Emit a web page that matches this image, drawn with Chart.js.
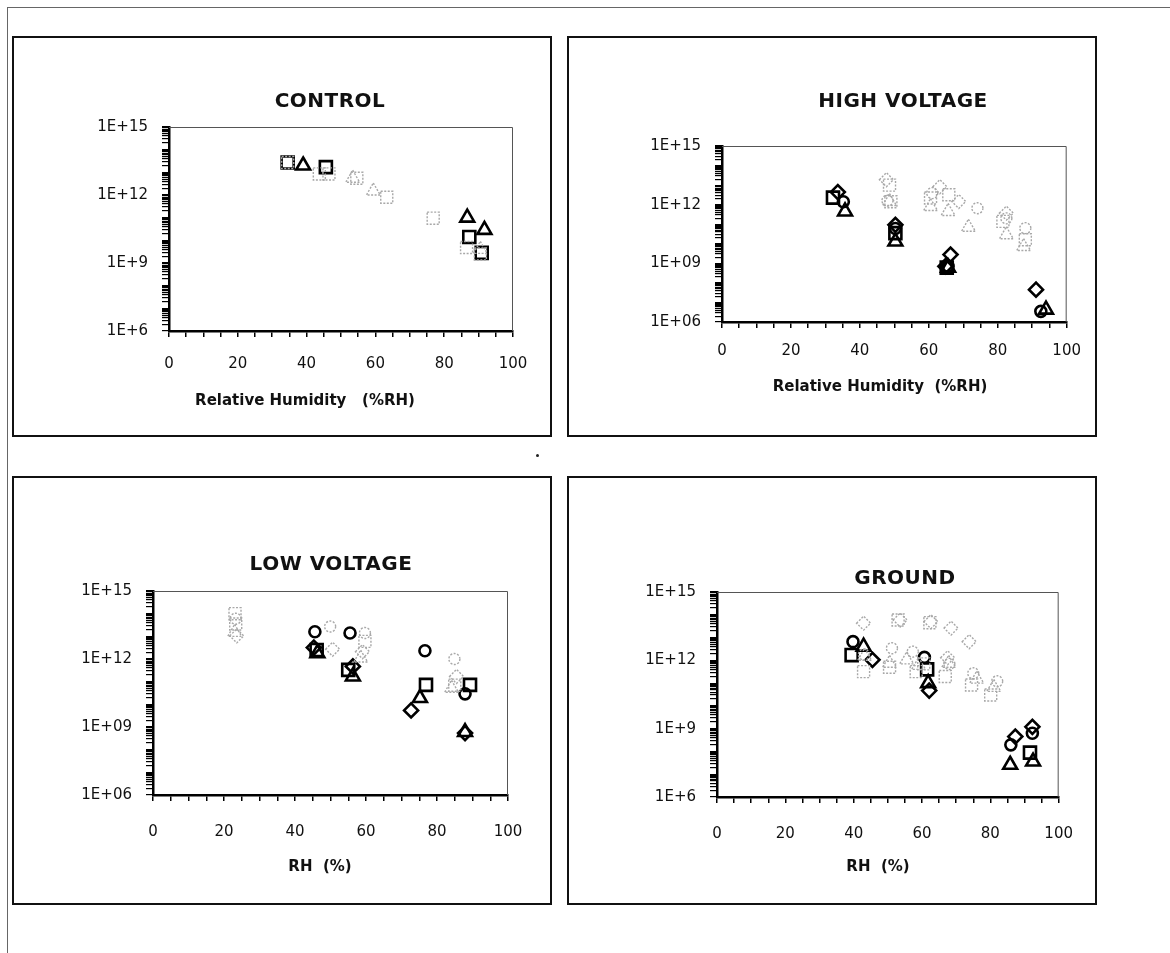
<!DOCTYPE html>
<html>
<head>
<meta charset="utf-8">
<script src="https://cdn.jsdelivr.net/npm/chart.js@4.4.1/dist/chart.umd.min.js"></script>
<style>
  html, body { margin: 0; padding: 0; background: #fff; }
  body { width: 1170px; height: 953px; position: relative; overflow: hidden; font-family: "DejaVu Sans", sans-serif; }
  .page-top  { position: absolute; left: 8px; top: 7px; width: 1162px; border-top: 1px solid #666; }
  .page-left { position: absolute; left: 7px; top: 7px; height: 946px; border-left: 1px solid #666; }
  .panel { position: absolute; border: 2px solid #111; box-sizing: border-box; }
  .chart { position: absolute; }
  .title { position: absolute; transform: translate(-50%, -50%); font-size: 20px; font-weight: 600; white-space: nowrap; color: #111; letter-spacing: 0.5px; }
  .axis-title { position: absolute; transform: translate(-50%, -50%); font-size: 15px; font-weight: bold; white-space: pre; color: #111; }
  .speck { position: absolute; width: 3px; height: 3px; background: #222; border-radius: 50%; }
</style>
</head>
<body>
<div class="page-top"></div>
<div class="page-left"></div>

<div class="panel" style="left:12px;top:36px;width:540px;height:401px"></div>
<div class="panel" style="left:567px;top:36px;width:530px;height:401px"></div>
<div class="panel" style="left:12px;top:476px;width:540px;height:429px"></div>
<div class="panel" style="left:567px;top:476px;width:530px;height:429px"></div>

<div class="chart" id="wrapControl"><canvas id="control"></canvas></div>
<div class="chart" id="wrapHigh"><canvas id="high"></canvas></div>
<div class="chart" id="wrapLow"><canvas id="low"></canvas></div>
<div class="chart" id="wrapGround"><canvas id="ground"></canvas></div>

<div class="title" style="left:330px;top:100px">CONTROL</div>
<div class="title" style="left:903px;top:100px">HIGH VOLTAGE</div>
<div class="title" style="left:331px;top:563px">LOW VOLTAGE</div>
<div class="title" style="left:905px;top:577px">GROUND</div>

<div class="axis-title" style="left:305px;top:400px">Relative Humidity   (%RH)</div>
<div class="axis-title" style="left:880px;top:386px">Relative Humidity  (%RH)</div>
<div class="axis-title" style="left:320px;top:866px">RH  (%)</div>
<div class="axis-title" style="left:878px;top:866px">RH  (%)</div>

<div class="speck" style="left:536px;top:454px"></div>

<script>
/* ── TICK LABELS ──────────────────────────────────────────── */
const xTickLabels    = ['0', '20', '40', '60', '80', '100'];
const controlYLabels = ['1E+6', '1E+9', '1E+12', '1E+15'];
const highYLabels    = ['1E+06', '1E+09', '1E+12', '1E+15'];
const lowYLabels     = ['1E+06', '1E+09', '1E+12', '1E+15'];
const groundYLabels  = ['1E+6', '1E+9', '1E+12', '1E+15'];

/* ── CONTROL  [RH %, resistance] ──────────────────────────── */
const controlBlackSquare   = [[34.5, 2.7e13], [45.6, 1.7e13], [87.3, 1.4e10], [90.9, 2.8e9]];
const controlBlackTriangle = [[39.0, 2.0e13], [86.7, 1.0e11], [91.7, 2.9e10]];
const controlGraySquare    = [[34.5, 2.7e13], [43.7, 8.5e12], [46.5, 8.5e12], [54.6, 5.5e12],
                              [63.3, 8.0e11], [76.8, 9.5e10], [86.5, 4.8e9], [90.5, 2.5e9]];
const controlGrayTriangle  = [[53.4, 5.5e12], [59.4, 1.5e12], [90.5, 4.0e9]];

/* ── HIGH VOLTAGE ─────────────────────────────────────────── */
const highBlackSquare   = [[32.2, 2.3e12], [50.3, 3.5e10], [65.2, 6.0e8]];
const highBlackDiamond  = [[33.6, 4.4e12], [50.3, 9.3e10], [64.8, 7.0e8], [66.3, 2.8e9], [91.1, 4.5e7]];
const highBlackCircle   = [[35.2, 1.4e12], [50.3, 6.0e10], [65.6, 7.0e8], [92.5, 3.5e6]];
const highBlackTriangle = [[35.7, 4.5e11], [50.3, 1.3e10], [65.6, 6.0e8], [94.0, 4.3e6]];
const highGrayDiamond   = [[47.7, 1.9e13], [63.2, 8.3e12], [68.7, 1.45e12], [82.5, 3.7e11]];
const highGraySquare    = [[48.6, 1.0e13], [49.0, 1.4e12], [65.8, 3.2e12], [60.5, 2.2e12], [81.5, 1.4e11], [88.0, 1.6e10]];
const highGrayCircle    = [[48.0, 1.6e12], [61.0, 3.9e12], [74.1, 6.6e11], [82.5, 2.0e11], [88.0, 6.3e10]];
const highGrayTriangle  = [[48.6, 1.45e12], [60.5, 8.0e11], [65.6, 4.5e11], [71.5, 7.0e10], [82.5, 2.9e10], [87.5, 7.2e9]];

/* ── LOW VOLTAGE ──────────────────────────────────────────── */
const lowBlackCircle   = [[45.6, 1.6e13], [55.5, 1.4e13], [76.6, 2.3e12], [87.9, 2.9e10]];
const lowBlackSquare   = [[46.1, 2.5e12], [55.0, 3.3e11], [76.9, 7.2e10], [89.3, 7.2e10]];
const lowBlackDiamond  = [[45.3, 3.2e12], [56.3, 4.7e11], [72.7, 5.4e9], [87.9, 5.4e8]];
const lowBlackTriangle = [[46.3, 1.8e12], [56.3, 1.7e11], [75.2, 1.9e10], [87.9, 6.0e8]];
const lowGraySquare    = [[23.1, 1.0e14], [23.3, 3.5e13], [59.7, 6.0e12], [85.0, 7.0e10]];
const lowGrayCircle    = [[23.3, 6.0e13], [49.9, 2.7e13], [59.7, 1.4e13], [84.9, 1.0e12]];
const lowGrayDiamond   = [[23.6, 1.05e13], [50.6, 2.7e12], [59.0, 2.1e12], [85.5, 1.7e11]];
const lowGrayTriangle  = [[23.0, 1.5e13], [58.5, 1.1e12], [84.1, 5.1e10]];

/* ── GROUND ───────────────────────────────────────────────── */
const groundBlackCircle   = [[39.8, 6.6e12], [60.7, 1.35e12], [86.0, 1.95e8], [92.3, 6.3e8]];
const groundBlackSquare   = [[39.4, 1.7e12], [61.5, 4.0e11], [91.6, 8.9e7]];
const groundBlackDiamond  = [[45.5, 1.05e12], [62.1, 4.7e10], [87.3, 4.5e8], [92.3, 1.2e9]];
const groundBlackTriangle = [[42.9, 4.0e12], [61.8, 1.0e11], [85.8, 2.6e7], [92.5, 3.6e7]];
const groundGrayDiamond   = [[42.9, 4.3e13], [53.6, 5.9e13], [62.6, 5.0e13], [68.5, 2.6e13], [73.8, 6.6e12], [67.5, 1.3e12]];
const groundGraySquare    = [[53.0, 5.9e13], [62.3, 4.5e13], [42.9, 3.2e11], [50.5, 5.0e11], [58.3, 3.2e11],
                             [66.8, 1.95e11], [74.5, 8.3e10], [80.1, 3.0e10], [60.5, 7.0e11]];
const groundGrayCircle    = [[43.0, 1.8e12], [51.2, 3.4e12], [57.3, 2.4e12], [75.0, 2.7e11], [82.0, 1.2e11], [68.0, 7.0e11]];
const groundGrayTriangle  = [[43.2, 1.5e12], [50.5, 7.4e11], [55.5, 1.05e12], [67.8, 7.4e11], [76.0, 1.5e11], [81.0, 6.5e10], [59.0, 6.0e11]];

/* ── LOG TICKS: every 1..9 x 10^n, labelled each 3 decades ── */
const yTickValues = [];
for (let e = 6; e < 15; e++) for (let m = 1; m < 10; m++) yTickValues.push(m * Math.pow(10, e));
yTickValues.push(1e15);

const markerRadius = { rect: 8.5, triangle: 8, rectRot: 7, circle: 5.5 };

function series(points, shape, black) {
  return {
    data           : points.map(([x, y]) => ({ x, y })),
    pointStyle     : shape,
    pointRadius    : markerRadius[shape],
    borderColor    : black ? '#000' : '#a8a8a8',
    borderWidth    : black ? 2.6 : 1.4,
    backgroundColor: 'rgba(0,0,0,0)',
    dotted         : !black,
  };
}

/* gray markers look dotted in the scan */
const dottedMarkers = {
  id: 'dottedMarkers',
  beforeDatasetDraw(chart, args) {
    if (chart.data.datasets[args.index].dotted) chart.ctx.setLineDash([2, 1.5]);
  },
  afterDatasetDraw(chart) { chart.ctx.setLineDash([]); }
};

/* thin top / right frame of the plot */
const plotFrame = {
  id: 'plotFrame',
  beforeDatasetsDraw(chart) {
    const { ctx, chartArea: a } = chart;
    ctx.save();
    ctx.strokeStyle = '#555';
    ctx.lineWidth = 1;
    ctx.beginPath();
    ctx.moveTo(a.left, a.top + 0.5);
    ctx.lineTo(a.right - 0.5, a.top + 0.5);
    ctx.lineTo(a.right - 0.5, a.bottom);
    ctx.stroke();
    ctx.restore();
  }
};

const Y_AXIS_W = 80, X_AXIS_H = 60;

function makeChart(canvasId, wrapId, box, plot, yLabels, datasets, xPad) {
  const wrap = document.getElementById(wrapId);
  const [bl, bt, bw, bh] = box;
  Object.assign(wrap.style, { left: bl + 'px', top: bt + 'px', width: bw + 'px', height: bh + 'px' });
  const [pl, pt, pr, pb] = plot;

  return new Chart(document.getElementById(canvasId), {
    type: 'scatter',
    data: { datasets },
    plugins: [dottedMarkers, plotFrame],
    options: {
      responsive: true,
      maintainAspectRatio: false,
      animation: false,
      events: [],
      layout: {
        padding: { left: pl - bl - Y_AXIS_W, top: pt - bt, right: bl + bw - pr, bottom: bt + bh - pb - X_AXIS_H }
      },
      scales: {
        x: {
          type: 'linear', min: 0, max: 100,
          afterFit: s => { s.height = X_AXIS_H; },
          border: { display: true, color: '#000', width: 2.5 },
          grid: { drawOnChartArea: false, drawTicks: true, tickLength: 6, color: '#000', lineWidth: 1.5 },
          ticks: {
            stepSize: 5, autoSkip: false, maxRotation: 0, padding: xPad,
            color: '#111', font: { family: 'DejaVu Sans', size: 15 },
            callback: v => (v % 20 === 0 ? xTickLabels[v / 20] : '')
          }
        },
        y: {
          type: 'logarithmic', min: 1e6, max: 1e15,
          afterFit: s => { s.width = Y_AXIS_W; },
          afterBuildTicks: s => { s.ticks = yTickValues.map(v => ({ value: v })); },
          border: { display: true, color: '#000', width: 2.5 },
          grid: { drawOnChartArea: false, drawTicks: true, tickLength: 7, color: '#000', lineWidth: 1.2 },
          ticks: {
            autoSkip: false, padding: 14,
            color: '#111', font: { family: 'DejaVu Sans', size: 15 },
            callback: v => {
              const e = Math.round(Math.log10(v));
              return Math.abs(v / Math.pow(10, e) - 1) < 1e-6 && e % 3 === 0 ? yLabels[(e - 6) / 3] : '';
            }
          }
        }
      },
      plugins: { legend: { display: false }, tooltip: { enabled: false }, title: { display: false } }
    }
  });
}

makeChart('control', 'wrapControl', [14, 38, 536, 397], [169, 127, 513, 331], controlYLabels, [
  series(controlGraySquare, 'rect', false),
  series(controlGrayTriangle, 'triangle', false),
  series(controlBlackSquare, 'rect', true),
  series(controlBlackTriangle, 'triangle', true),
], 18);

makeChart('high', 'wrapHigh', [569, 38, 526, 397], [722, 146, 1071, 322], highYLabels, [
  series(highGrayDiamond, 'rectRot', false),
  series(highGraySquare, 'rect', false),
  series(highGrayCircle, 'circle', false),
  series(highGrayTriangle, 'triangle', false),
  series(highBlackSquare, 'rect', true),
  series(highBlackDiamond, 'rectRot', true),
  series(highBlackCircle, 'circle', true),
  series(highBlackTriangle, 'triangle', true),
], 14);

makeChart('low', 'wrapLow', [14, 478, 536, 425], [153, 591, 508, 795], lowYLabels, [
  series(lowGraySquare, 'rect', false),
  series(lowGrayCircle, 'circle', false),
  series(lowGrayDiamond, 'rectRot', false),
  series(lowGrayTriangle, 'triangle', false),
  series(lowBlackCircle, 'circle', true),
  series(lowBlackSquare, 'rect', true),
  series(lowBlackDiamond, 'rectRot', true),
  series(lowBlackTriangle, 'triangle', true),
], 22);

makeChart('ground', 'wrapGround', [569, 478, 526, 425], [717, 592, 1068, 797], groundYLabels, [
  series(groundGrayDiamond, 'rectRot', false),
  series(groundGraySquare, 'rect', false),
  series(groundGrayCircle, 'circle', false),
  series(groundGrayTriangle, 'triangle', false),
  series(groundBlackCircle, 'circle', true),
  series(groundBlackSquare, 'rect', true),
  series(groundBlackDiamond, 'rectRot', true),
  series(groundBlackTriangle, 'triangle', true),
], 22);
</script>
</body>
</html>
